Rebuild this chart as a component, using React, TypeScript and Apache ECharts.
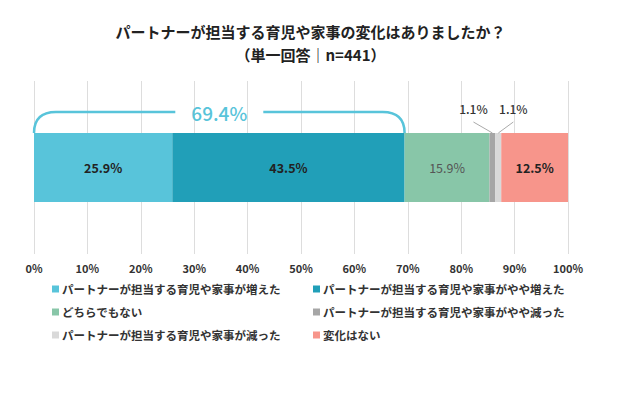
import React, { useEffect, useRef } from "react";
import * as echarts from "echarts";

const titleText = "パートナーが担当する育児や家事の変化はありましたか？";
const subTitleText = "（単一回答｜n=441）";
const seriesNames = [
  "パートナーが担当する育児や家事が増えた",
  "パートナーが担当する育児や家事がやや増えた",
  "どちらでもない",
  "パートナーが担当する育児や家事がやや減った",
  "パートナーが担当する育児や家事が減った",
  "変化はない",
];
const seriesValues = [25.9, 43.5, 15.9, 1.1, 1.1, 12.5];
const seriesColors = ["#58C4DA", "#219FB8", "#88C6A8", "#A6A6A6", "#D9D9D9", "#F7958B"];
const labelColors = ["#222", "#222", "#555", "#222", "#222", "#222"];
const showInside = [true, true, true, false, false, true];
const bracketRange = [0, 69.4];
const bracketLabel = "69.4%";
const xTicks = [0, 10, 20, 30, 40, 50, 60, 70, 80, 90, 100];

const FONT = "'Noto Sans CJK JP', 'Noto Sans', sans-serif";

export default function App() {
  const ref = useRef<HTMLDivElement>(null);
  useEffect(() => {
    if (!ref.current) return;
    const chart = echarts.init(ref.current, null, { renderer: "svg" });

    const cum: number[] = [];
    let acc = 0;
    seriesValues.forEach((v) => {
      cum.push(acc);
      acc += v;
    });
    const smallIdx = seriesValues.map((v, i) => i).filter((i) => !showInside[i]);
    const leaderData = smallIdx.map((i) => [cum[i] + seriesValues[i] / 2, seriesValues[i]]);

    const barSeries = seriesNames.map((name, i) => ({
      name,
      type: "bar",
      stack: "total",
      barWidth: 69,
      data: [seriesValues[i]],
      itemStyle: { color: seriesColors[i] },
      label: {
        show: showInside[i],
        position: "inside",
        formatter: (p: any) => p.value.toFixed(1) + "%",
        color: labelColors[i],
        fontSize: 12.5,
        fontWeight: i === 2 ? "normal" : "bold",
        fontFamily: FONT,
      },
    }));

    const option: any = {
      animation: false,
      textStyle: { fontFamily: FONT },
      title: {
        text: titleText,
        subtext: subTitleText,
        left: "center",
        top: 19,
        itemGap: 8,
        textStyle: { fontSize: 15, fontWeight: "bold", color: "#222", fontFamily: FONT },
        subtextStyle: { fontSize: 15, fontWeight: "bold", color: "#222", fontFamily: FONT },
      },
      grid: { left: 34, right: 53, top: 81, bottom: 142 },
      xAxis: {
        type: "value",
        min: 0,
        max: 100,
        interval: 10,
        axisLine: { show: false },
        axisTick: { show: false },
        splitLine: { show: true, lineStyle: { color: "#DDDDDD", width: 1 } },
        axisLabel: {
          margin: 8,
          color: "#333",
          fontSize: 11,
          fontWeight: "bold",
          fontFamily: FONT,
          customValues: xTicks,
          formatter: (v: number) => v + "%",
        },
      },
      yAxis: {
        type: "category",
        data: [""],
        axisLine: { show: false },
        axisTick: { show: false },
        axisLabel: { show: false },
      },
      legend: [
        {
          data: [seriesNames[0], seriesNames[2], seriesNames[4]],
          orient: "vertical",
          left: 52,
          top: 282,
          padding: 0,
          itemGap: 9,
          itemWidth: 7,
          itemHeight: 7,
          icon: "rect",
          textStyle: { fontSize: 11.5, fontWeight: "bold", color: "#333", lineHeight: 14, fontFamily: FONT, padding: [0, 0, 0, -2] },
        },
        {
          data: [seriesNames[1], seriesNames[3], seriesNames[5]],
          orient: "vertical",
          left: 313,
          top: 282,
          padding: 0,
          itemGap: 9,
          itemWidth: 7,
          itemHeight: 7,
          icon: "rect",
          textStyle: { fontSize: 11.5, fontWeight: "bold", color: "#333", lineHeight: 14, fontFamily: FONT, padding: [0, 0, 0, -2] },
        },
      ],
      series: [
        ...barSeries,
        {
          type: "custom",
          name: "bracket",
          clip: false,
          z: 10,
          silent: true,
          data: [bracketRange],
          renderItem: (params: any, api: any) => {
            const p0 = api.coord([api.value(0), 0]);
            const p1 = api.coord([api.value(1), 0]);
            const yb = p0[1] - 34.5;
            const yt = yb - 21;
            const x0 = p0[0];
            const x1 = p1[0];
            const cx = (x0 + x1) / 2;
            const rx = 22;
            const gap = 44;
            const d =
              `M${x0},${yb} Q${x0},${yt} ${x0 + rx},${yt} L${cx - gap},${yt} ` +
              `M${cx + gap},${yt} L${x1 - rx},${yt} Q${x1},${yt} ${x1},${yb}`;
            return {
              type: "group",
              children: [
                {
                  type: "path",
                  shape: { pathData: d },
                  style: { fill: "none", stroke: "#58C4DA", lineWidth: 2.5 },
                },
                {
                  type: "text",
                  style: {
                    text: bracketLabel,
                    x: cx,
                    y: yt,
                    align: "center",
                    verticalAlign: "middle",
                    fill: "#58C4DA",
                    font: `500 19px ${FONT}`,
                  },
                },
              ],
            };
          },
        },
        {
          type: "custom",
          name: "leaders",
          clip: false,
          z: 10,
          silent: true,
          data: leaderData,
          renderItem: (params: any, api: any) => {
            const p = api.coord([api.value(0), 0]);
            const yb = p[1] - 34.5;
            const dx = params.dataIndex === 0 ? -19 : 15;
            const lx = p[0] + dx;
            const ly = yb - 11;
            return {
              type: "group",
              children: [
                {
                  type: "line",
                  shape: { x1: lx, y1: ly, x2: p[0], y2: yb },
                  style: { stroke: "#AAAAAA", lineWidth: 1 },
                },
                {
                  type: "text",
                  style: {
                    text: api.value(1).toFixed(1) + "%",
                    x: lx,
                    y: ly - 14,
                    align: "center",
                    verticalAlign: "middle",
                    fill: "#333",
                    font: `500 12px ${FONT}`,
                  },
                },
              ],
            };
          },
        },
      ],
    };
    chart.setOption(option);
    return () => chart.dispose();
  }, []);
  return <div ref={ref} style={{ width: 621, height: 396, position: "absolute", left: 0, top: 0, background: "#fff" }} />;
}
